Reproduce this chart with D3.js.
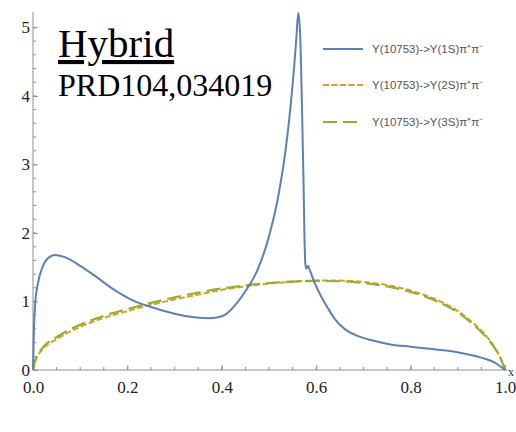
<!DOCTYPE html>
<html>
<head>
<meta charset="utf-8">
<script src="https://cdn.jsdelivr.net/npm/d3@7"></script>
<style>
  body { margin: 0; background: #fff; }
  svg { display: block; }
</style>
</head>
<body>
<svg id="chart" width="516" height="432"></svg>
<script>
// Υ(10753) -> Υ(1S)π+π-
const blueX = [0, 0.002, 0.005, 0.01, 0.02, 0.03, 0.047, 0.07, 0.1, 0.13, 0.17, 0.21, 0.25, 0.29, 0.33, 0.37, 0.39, 0.41, 0.43, 0.45, 0.475, 0.50, 0.52, 0.535, 0.545, 0.553, 0.558, 0.562, 0.566, 0.57, 0.573, 0.575, 0.577, 0.579, 0.583, 0.587, 0.595, 0.61, 0.625, 0.64, 0.66, 0.69, 0.72, 0.76, 0.80, 0.84, 0.88, 0.92, 0.95, 0.98, 1.0];
const blueY = [0, 0.6, 1.0, 1.25, 1.5, 1.62, 1.68, 1.64, 1.52, 1.38, 1.18, 1.02, 0.92, 0.84, 0.78, 0.755, 0.765, 0.82, 0.96, 1.15, 1.45, 1.95, 2.55, 3.2, 3.8, 4.4, 4.85, 5.21, 4.9, 3.8, 2.8, 2.0, 1.55, 1.48, 1.52, 1.45, 1.3, 1.08, 0.9, 0.74, 0.6, 0.49, 0.43, 0.37, 0.34, 0.31, 0.28, 0.23, 0.18, 0.1, 0];

// 2S and 3S share x
const smoothX = [0, 0.005, 0.02, 0.05, 0.1, 0.15, 0.2, 0.25, 0.3, 0.35, 0.4, 0.45, 0.5, 0.55, 0.6, 0.65, 0.7, 0.75, 0.8, 0.85, 0.9, 0.93, 0.96, 0.98, 0.995, 1];
const orangeY = [0, 0.13, 0.3, 0.45, 0.63, 0.76, 0.86, 0.95, 1.03, 1.1, 1.17, 1.22, 1.26, 1.29, 1.305, 1.305, 1.285, 1.24, 1.16, 1.04, 0.86, 0.7, 0.5, 0.31, 0.1, 0];
const greenY = [0, 0.15, 0.32, 0.48, 0.66, 0.79, 0.89, 0.98, 1.06, 1.13, 1.19, 1.235, 1.27, 1.29, 1.3, 1.295, 1.27, 1.22, 1.14, 1.02, 0.84, 0.68, 0.48, 0.3, 0.1, 0];

const xTicks = [0, 0.2, 0.4, 0.6, 0.8, 1.0];
const yTicks = [0, 1, 2, 3, 4, 5];
const legendLabels = ["Υ(10753)->Υ(1S)π⁺π⁻", "Υ(10753)->Υ(2S)π⁺π⁻", "Υ(10753)->Υ(3S)π⁺π⁻"];

const svg = d3.select("#chart");
const x = d3.scaleLinear().domain([0, 1]).range([33, 505]);
const y = d3.scaleLinear().domain([0, 5.21]).range([370, 13]);

const axisColor = "#8f8f8f";
const serif = "'Liberation Serif', 'Times New Roman', serif";

// minor ticks
const xMinor = d3.range(0, 1.0001, 0.05);
const yMinor = d3.range(0, 5.2, 0.2);

const xAxis = d3.axisBottom(x).tickValues(xTicks).tickFormat(d3.format(".1f")).tickSizeInner(-5).tickSizeOuter(0).tickPadding(0);
const gx = svg.append("g").attr("transform", "translate(0,370)").call(xAxis);
gx.select(".domain").attr("stroke", axisColor).attr("d", "M33,0H508");
gx.selectAll(".tick line").attr("stroke", axisColor);
gx.selectAll(".tick text").style("font-family", serif).style("font-size", "17px")
  .attr("fill", "#222").attr("y", 23).attr("dy", null);
gx.selectAll(".minor").data(xMinor).enter().append("line")
  .attr("x1", d => x(d)).attr("x2", d => x(d)).attr("y1", 0).attr("y2", -3)
  .attr("stroke", axisColor);

const yAxis = d3.axisLeft(y).tickValues(yTicks).tickFormat(d3.format("d")).tickSizeInner(-5).tickSizeOuter(0).tickPadding(3);
const gy = svg.append("g").attr("transform", "translate(33,0)").call(yAxis);
gy.select(".domain").attr("stroke", axisColor).attr("d", "M0,370V12");
gy.selectAll(".tick line").attr("stroke", axisColor);
gy.selectAll(".tick text").style("font-family", serif).style("font-size", "17px").attr("fill", "#222");
gy.selectAll(".minor").data(yMinor).enter().append("line")
  .attr("x1", 0).attr("x2", 3).attr("y1", d => y(d)).attr("y2", d => y(d))
  .attr("stroke", axisColor);

svg.append("text").attr("x", 508).attr("y", 376).style("font-family", serif)
  .style("font-size", "12px").attr("fill", "#333").text("x");

const line = d3.line().x(d => x(d[0])).y(d => y(d[1])).curve(d3.curveMonotoneX);

const series = [
  { xs: smoothX, ys: orangeY, color: "#e19c24", dash: "6,2.5", width: 2 },
  { xs: smoothX, ys: greenY, color: "#8fb032", dash: "14,6", width: 2.2 },
  { xs: blueX, ys: blueY, color: "#5e81b5", dash: null, width: 2 }
];

series.forEach(s => {
  svg.append("path")
    .datum(s.xs.map((v, i) => [v, s.ys[i]]))
    .attr("d", line)
    .attr("fill", "none")
    .attr("stroke", s.color)
    .attr("stroke-width", s.width)
    .attr("stroke-dasharray", s.dash);
});

// legend
const legendStyle = [
  { color: "#5e81b5", dash: null },
  { color: "#e19c24", dash: "6,2.5" },
  { color: "#8fb032", dash: "14,6" }
];
const legendY = [49, 85, 122];
legendLabels.forEach((lab, i) => {
  svg.append("line").attr("x1", 323).attr("x2", 363).attr("y1", legendY[i]).attr("y2", legendY[i])
    .attr("stroke", legendStyle[i].color).attr("stroke-width", 2)
    .attr("stroke-dasharray", legendStyle[i].dash);
  svg.append("text").attr("x", 372).attr("y", legendY[i] + 4)
    .style("font-family", "'Liberation Sans', Arial, sans-serif").style("font-size", "11.5px")
    .attr("fill", "#555").text(lab);
});

// annotation
svg.append("text").attr("x", 58).attr("y", 57).style("font-family", serif)
  .style("font-size", "41px").attr("fill", "#000").attr("text-decoration", "underline").text("Hybrid");
svg.append("text").attr("x", 58).attr("y", 96).style("font-family", serif)
  .style("font-size", "32px").attr("fill", "#000").text("PRD104,034019");
</script>
</body>
</html>
